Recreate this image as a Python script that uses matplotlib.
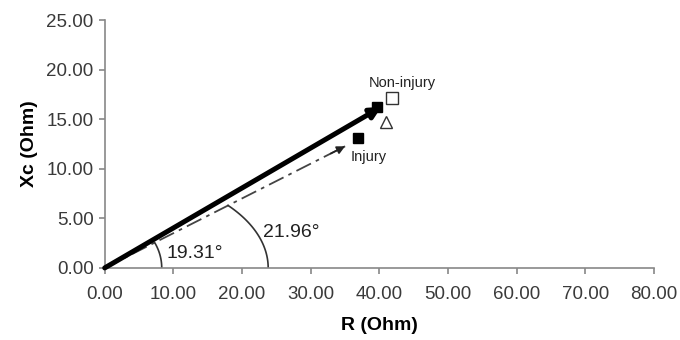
import numpy as np
import matplotlib.pyplot as plt

plt.rcParams['font.family'] = ['Liberation Sans', 'DejaVu Sans']

# vectors (R, Xc) in Ohm
non_injury_vec = (40.3, 16.25)
injury_vec = (35.0, 12.27)

# group means
filled_sq_x = [39.6, 36.9]
filled_sq_y = [16.2, 13.1]
open_sq_x = [41.8]
open_sq_y = [17.1]
open_tri_x = [41.0]
open_tri_y = [14.7]

angle_labels = ['19.31\u00b0', '21.96\u00b0']

x_ticks = np.arange(0, 81, 10)
y_ticks = np.arange(0, 26, 5)

fig = plt.figure(figsize=(6.8, 3.4), dpi=100)
ax = fig.add_axes([0.154, 0.212, 0.808, 0.729])

# thick vector (non-injury)
ax.annotate('', xy=non_injury_vec, xytext=(0, 0),
            arrowprops=dict(arrowstyle='-|>', lw=3.6, color='black',
                            mutation_scale=16, shrinkA=0, shrinkB=0),
            zorder=3)

# dash-dot vector (injury)
ax.plot([0, injury_vec[0]], [0, injury_vec[1]], color='#444444', lw=1.3,
        dashes=(9, 3, 2, 3), zorder=2)
head_start = (injury_vec[0] * 0.94, injury_vec[1] * 0.94)
ax.annotate('', xy=injury_vec, xytext=head_start,
            arrowprops=dict(arrowstyle='-|>', lw=1.2, color='#222222',
                            mutation_scale=12, shrinkA=0, shrinkB=0),
            zorder=3)

ax.plot(filled_sq_x, filled_sq_y, 's', color='black', ms=7, zorder=4)
ax.plot(open_sq_x, open_sq_y, 's', mfc='white', mec='#333333', mew=1.0, ms=8, zorder=4)
ax.plot(open_tri_x, open_tri_y, '^', mfc='white', mec='#333333', mew=1.0, ms=8, zorder=4)

ax.text(43.3, 18.7, 'Non-injury', fontsize=10.5, ha='center', va='center', color='#222222')
ax.text(38.5, 11.2, 'Injury', fontsize=10.5, ha='center', va='center', color='#222222')

# angle arcs (drawn as ellipses round the origin)
ang_inj = np.arctan(injury_vec[1] / injury_vec[0])
for a, b in [(8.3, 5.3), (23.8, 9.6)]:
    t_end = np.arctan(a / b * np.tan(ang_inj))
    t = np.linspace(0, t_end, 60)
    ax.plot(a * np.cos(t), b * np.sin(t), color='#333333', lw=1.2, zorder=2)

ax.text(9.0, 1.5, angle_labels[0], fontsize=14, ha='left', va='center', color='#222222')
ax.text(23.0, 3.6, angle_labels[1], fontsize=14, ha='left', va='center', color='#222222')

ax.set_xlim(0, 80)
ax.set_ylim(0, 25)
ax.set_xticks(x_ticks)
ax.set_yticks(y_ticks)
ax.set_xticklabels(['%.2f' % v for v in x_ticks])
ax.set_yticklabels(['%.2f' % v for v in y_ticks])
ax.tick_params(axis='both', labelsize=13.5, colors='#888888', labelcolor='#3a3a3a',
               length=4, width=1.2)
ax.tick_params(axis='x', pad=9)
ax.tick_params(axis='y', pad=4)

for side in ['top', 'right']:
    ax.spines[side].set_visible(False)
for side in ['left', 'bottom']:
    ax.spines[side].set_color('#888888')
    ax.spines[side].set_linewidth(1.2)

ax.set_xlabel('R (Ohm)', fontsize=14, fontweight='bold', labelpad=10)
ax.set_ylabel('Xc (Ohm)', fontsize=14, fontweight='bold', labelpad=6)

fig.savefig('out.png', dpi=100)
